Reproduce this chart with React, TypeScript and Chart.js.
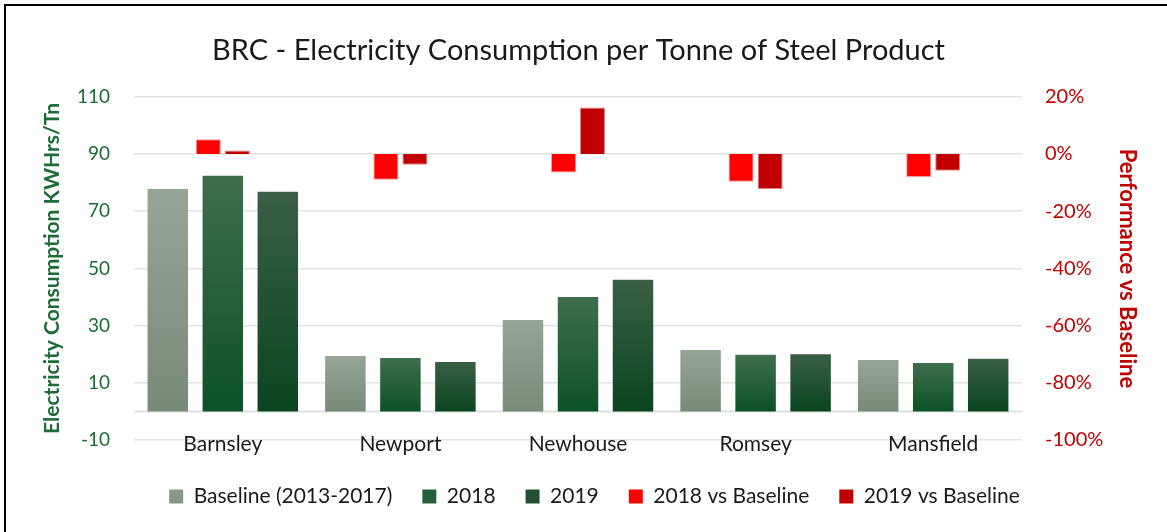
import React, { useEffect, useRef } from "react";
import { Chart, registerables, BarController } from "chart.js";

class RedBarController extends BarController {}
(RedBarController as any).id = "redbar";
(RedBarController as any).defaults = { ...(BarController as any).defaults };
(RedBarController as any).overrides = (BarController as any).overrides;

Chart.register(...registerables, RedBarController);

const categories = ["Barnsley", "Newport", "Newhouse", "Romsey", "Mansfield"];
const baseline = [77.8, 19.4, 32, 21.5, 18];
const y2018 = [82.4, 18.7, 40, 19.8, 16.9];
const y2019 = [76.8, 17.3, 46, 20, 18.4];
const vs2018 = [5.2, -9, -6.5, -9.7, -8];
const vs2019 = [1.2, -3.8, 16.3, -12.2, -5.9];
const leftTicks = [-10, 10, 30, 50, 70, 90, 110];
const rightTicks = [-100, -80, -60, -40, -20, 0, 20];

const FONT = "Lato, 'Open Sans', sans-serif";
const GREEN = "#1d6b36";
const RED = "#c00000";

const grad = (top: string, bottom: string) => (ctx: any) => {
  const chart = ctx.chart;
  if (!chart.chartArea || ctx.type !== "data") return bottom;
  const ys = chart.scales.y;
  const v = ctx.raw as number;
  const yTop = ys.getPixelForValue(v);
  const yBase = ys.getPixelForValue(0);
  if (!isFinite(yTop) || !isFinite(yBase) || yTop === yBase) return bottom;
  const g = chart.ctx.createLinearGradient(0, yTop, 0, yBase);
  g.addColorStop(0, top);
  g.addColorStop(1, bottom);
  return g;
};

const LEGEND_SHIFT = 16;

const extrasPlugin = {
  id: "extras",
  afterLayout(chart: any) {
    if (chart.legend) {
      chart.legend.left += LEGEND_SHIFT;
      chart.legend.right += LEGEND_SHIFT;
    }
  },
  beforeDraw(chart: any) {
    const c = chart.ctx;
    c.save();
    c.fillStyle = "#ffffff";
    c.fillRect(0, 0, chart.width, chart.height);
    c.strokeStyle = "#000000";
    c.lineWidth = 2;
    c.beginPath();
    c.moveTo(5, chart.height + 2);
    c.lineTo(5, 5);
    c.lineTo(chart.width + 2, 5);
    c.stroke();
    c.restore();
  },
  beforeDatasetsDraw(chart: any) {
    const c = chart.ctx;
    const a = chart.chartArea;
    const y0 = chart.scales.y.getPixelForValue(0);
    c.save();
    c.strokeStyle = "#dde2df";
    c.lineWidth = 2;
    c.beginPath();
    c.moveTo(a.left, y0);
    c.lineTo(a.right, y0);
    c.stroke();
    c.restore();
  },
};

export default function App() {
  const ref = useRef<HTMLCanvasElement | null>(null);
  useEffect(() => {
    if (!ref.current) return;
    const greenCat = 0.929;
    const greenBar = 0.736;
    const redCat = 0.327;
    const redBar = 0.862;
    const chart = new Chart(ref.current, {
      type: "bar",
      data: {
        labels: categories,
        datasets: [
          {
            label: "Baseline (2013-2017)",
            data: baseline,
            backgroundColor: grad("#97a597", "#788a78"),
            yAxisID: "y",
            categoryPercentage: greenCat,
            barPercentage: greenBar,
            order: 2,
          },
          {
            label: "2018",
            data: y2018,
            backgroundColor: grad("#3f6e4c", "#0c5226"),
            yAxisID: "y",
            categoryPercentage: greenCat,
            barPercentage: greenBar,
            order: 2,
          },
          {
            label: "2019",
            data: y2019,
            backgroundColor: grad("#3a5f46", "#0a451f"),
            yAxisID: "y",
            categoryPercentage: greenCat,
            barPercentage: greenBar,
            order: 2,
          },
          {
            type: "redbar" as any,
            label: "2018 vs Baseline",
            data: vs2018,
            backgroundColor: "#ff0000",
            borderColor: "rgba(255,140,140,0.9)",
            borderWidth: 1,
            yAxisID: "y2",
            categoryPercentage: redCat,
            barPercentage: redBar,
            order: 1,
          },
          {
            type: "redbar" as any,
            label: "2019 vs Baseline",
            data: vs2019,
            backgroundColor: "#c00000",
            borderColor: "rgba(230,120,120,0.9)",
            borderWidth: 1,
            yAxisID: "y2",
            categoryPercentage: redCat,
            barPercentage: redBar,
            order: 1,
          },
        ] as any,
      },
      options: {
        responsive: false,
        animation: false,
        layout: { padding: { left: 17, right: 27, top: 0, bottom: 15 } },
        plugins: {
          title: {
            display: true,
            text: "BRC - Electricity Consumption per Tonne of Steel Product",
            color: "#1a1a1a",
            font: { family: FONT, size: 29, weight: "normal" },
            padding: { top: 33, bottom: 29 },
          },
          legend: {
            position: "bottom",
            labels: {
              color: "#1a1a1a",
              font: { family: FONT, size: 21 },
              boxWidth: 14,
              boxHeight: 14,
              padding: 30,
              generateLabels: () => {
                const cols = ["#879887", "#265f3c", "#234f33", "#ff0000", "#c00000"];
                const names = ["Baseline (2013-2017)", "2018", "2019", "2018 vs Baseline", "2019 vs Baseline"];
                return names.map((n, i) => ({
                  text: n,
                  fillStyle: cols[i],
                  strokeStyle: cols[i],
                  lineWidth: 0,
                  hidden: false,
                  datasetIndex: i,
                  fontColor: "#1a1a1a",
                }));
              },
            },
          },
          tooltip: { enabled: false },
        },
        scales: {
          x: {
            type: "category",
            grid: { display: false, drawTicks: false },
            border: { display: false },
            ticks: { color: "#1a1a1a", font: { family: FONT, size: 21 }, padding: -17, mirror: true },
            afterFit: (s: any) => {
              s.height = 16;
            },
          },
          y: {
            type: "linear",
            position: "left",
            min: -10,
            max: 110,
            afterBuildTicks: (s: any) => {
              s.ticks = leftTicks.map((v) => ({ value: v }));
            },
            afterFit: (s: any) => {
              s.width = 117;
            },
            grid: { color: "#dfe4e1", lineWidth: 1.5, drawTicks: false },
            border: { display: false },
            ticks: { color: GREEN, font: { family: FONT, size: 19 }, padding: 24 },
            title: {
              display: true,
              text: "Electricity Consumption KWHrs/Tn",
              color: GREEN,
              font: { family: FONT, size: 21, weight: "bold" },
              padding: { top: 23, bottom: 0 },
            },
          },
          y2: {
            type: "linear",
            position: "right",
            min: -100,
            max: 20,
            afterBuildTicks: (s: any) => {
              s.ticks = rightTicks.map((v) => ({ value: v }));
            },
            afterFit: (s: any) => {
              s.width = 118;
            },
            grid: { display: false, drawTicks: false },
            border: { display: false },
            ticks: {
              color: RED,
              font: { family: FONT, size: 20 },
              padding: 23,
              callback: (v: any) => `${v}%`,
            },
            title: {
              display: true,
              text: "Performance vs Baseline",
              color: RED,
              font: { family: FONT, size: 22, weight: "bold" },
              padding: { top: 0, bottom: 0 },
            },
          },
        },
      },
      plugins: [extrasPlugin],
    });
    return () => chart.destroy();
  }, []);
  return (
    <div style={{ position: "fixed", left: 0, top: 0, width: 1167, height: 532, background: "#fff" }}>
      <canvas ref={ref} width={1167} height={532} style={{ display: "block" }} />
    </div>
  );
}
